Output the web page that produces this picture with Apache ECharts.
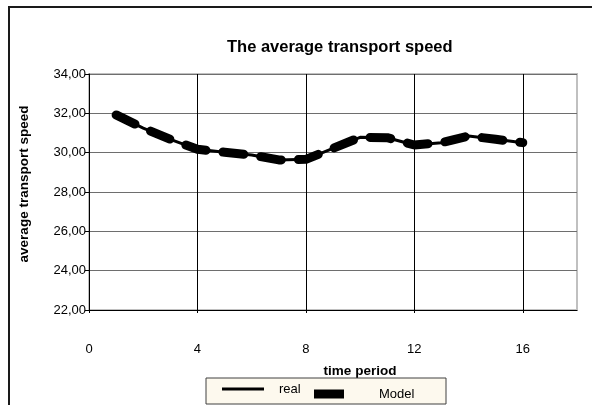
<!DOCTYPE html>
<html>
<head>
<meta charset="utf-8">
<script src="https://cdn.jsdelivr.net/npm/echarts@6/dist/echarts.min.js"></script>
<style>
html,body{margin:0;padding:0;background:#fff;}
#c{width:592px;height:405px;}
</style>
</head>
<body>
<div id="c"></div>
<script>
var periods = [1, 2, 3, 4, 5, 6, 7, 8, 9, 10, 11, 12, 13, 14, 15, 16];
var realValues = [31.92, 31.25, 30.68, 30.17, 30.02, 29.88, 29.63, 29.66, 30.22, 30.78, 30.76, 30.39, 30.51, 30.85, 30.68, 30.51];
var modelValues = [31.92, 31.25, 30.68, 30.17, 30.02, 29.88, 29.63, 29.66, 30.22, 30.78, 30.76, 30.39, 30.51, 30.85, 30.68, 30.51];
var xTicks = [0, 4, 8, 12, 16];
var yTicks = [22, 24, 26, 28, 30, 32, 34];

function pairs(xs, ys) { return xs.map(function (x, i) { return [x, ys[i]]; }); }

var chart = echarts.init(document.getElementById('c'), null, {renderer: 'canvas'});
var font = 'Liberation Sans, Arial, sans-serif';
chart.setOption({
  animation: false,
  backgroundColor: '#ffffff',
  title: {
    text: 'The average transport speed',
    left: 222,
    top: 34,
    padding: 5,
    textStyle: {fontFamily: font, fontSize: 16.5, fontWeight: 'bold', color: '#000'}
  },
  graphic: [
    {type: 'rect', z: 0, shape: {x: 9, y: 7, width: 700, height: 500},
     style: {fill: 'none', stroke: '#1a1a1a', lineWidth: 2}},
    {type: 'rect', z: 1, shape: {x: 206, y: 378, width: 240, height: 26},
     style: {fill: '#fdf9ee', stroke: '#404040', lineWidth: 1}}
  ],
  legend: [
    {data: ['real'], left: 222, top: 381, padding: 0, itemWidth: 42, itemHeight: 3, icon: 'rect',
     z: 10, itemStyle: {color: '#000'},
     textStyle: {fontFamily: font, fontSize: 13, color: '#000', padding: [0, 0, 0, 10], lineHeight: 16}},
    {data: ['Model'], left: 314, top: 384, padding: 0, itemWidth: 30, itemHeight: 9, icon: 'rect',
     z: 10, itemStyle: {color: '#000'},
     textStyle: {fontFamily: font, fontSize: 13, color: '#000', padding: [4, 0, 0, 30], lineHeight: 16}}
  ],
  grid: {left: 89, top: 74, right: 15, bottom: 95, show: true, borderColor: '#c0c0c0', borderWidth: 2, backgroundColor: 'transparent'},
  xAxis: {
    type: 'value', min: 0, max: 18, interval: 4,
    name: 'time period', nameLocation: 'middle', nameGap: 54,
    nameTextStyle: {fontFamily: font, fontSize: 13.5, fontWeight: 'bold', color: '#000', padding: [0, 0, 0, 54]},
    axisLine: {show: true, onZero: false, lineStyle: {color: '#000', width: 1}},
    axisTick: {show: true, inside: false, length: 3, lineStyle: {color: '#000'}},
    axisLabel: {margin: 33, showMaxLabel: false, fontFamily: font, fontSize: 13, color: '#000',
      formatter: function (v) { return xTicks.indexOf(v) >= 0 ? String(v) : ''; }},
    splitLine: {show: true, showMaxLine: false, lineStyle: {color: '#000', width: 1}}
  },
  yAxis: {
    type: 'value', min: 22, max: 34, interval: 2,
    name: 'average transport speed', nameLocation: 'middle', nameGap: 58, nameRotate: 90,
    nameTextStyle: {fontFamily: font, fontSize: 13.5, fontWeight: 'bold', color: '#000', padding: [0, 0, 0, 16]},
    axisLine: {show: true, lineStyle: {color: '#000', width: 1}},
    axisTick: {show: true, inside: false, length: 4, lineStyle: {color: '#000'}},
    axisLabel: {margin: 3, fontFamily: font, fontSize: 13, color: '#000', padding: [0, 0, 6, 0],
      formatter: function (v) { return yTicks.indexOf(v) >= 0 ? v.toFixed(2).replace('.', ',') : ''; }},
    splitLine: {show: true, lineStyle: {color: '#6e6e6e', width: 1}}
  },
  series: [
    {name: 'real', type: 'line', data: pairs(periods, realValues), showSymbol: false, symbol: 'none',
     z: 3, lineStyle: {color: '#000', width: 3}, itemStyle: {color: '#000'}},
    {name: 'Model', type: 'line', data: pairs(periods, modelValues), showSymbol: false, symbol: 'none',
     z: 4, lineStyle: {color: '#000', width: 9, type: [21, 17], cap: 'round', join: 'round'}, itemStyle: {color: '#000'}}
  ]
});
</script>
</body>
</html>
